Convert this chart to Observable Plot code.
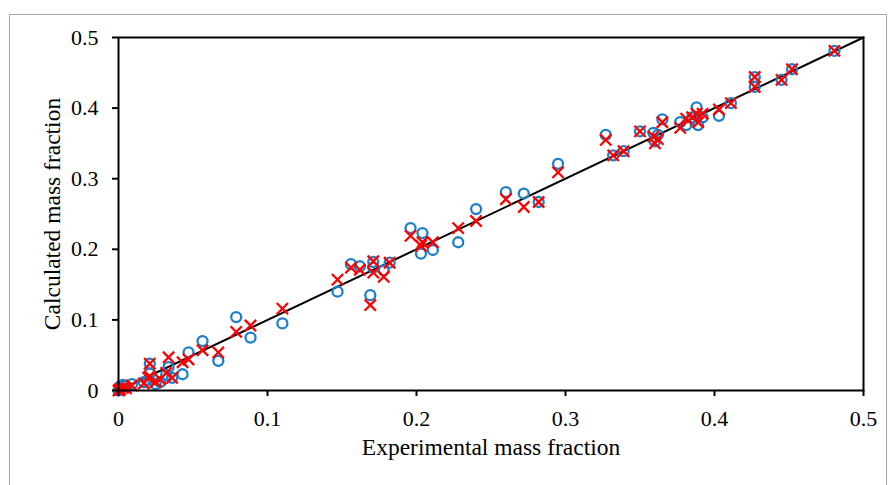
<!DOCTYPE html>
<html><head><meta charset="utf-8">
<script src="https://cdn.jsdelivr.net/npm/d3@7"></script>
<script src="https://cdn.jsdelivr.net/npm/@observablehq/plot@0.6"></script>
<style>
html,body{margin:0;padding:0;background:#fff;}
#wrap{position:relative;width:889px;height:485px;overflow:hidden;}
#border{position:absolute;left:9px;top:14px;width:878px;height:480px;border:1px solid #a6a6a6;box-sizing:border-box;}
#chart{position:absolute;left:0;top:0;}
</style></head><body><div id="wrap"><div id="border"></div><div id="chart"></div></div>
<script>
// Experimental mass fraction (x) for each data point
const experimental = [0.4805,0.452,0.445,0.427,0.427,0.411,0.403,0.392,0.389,0.388,0.385,0.381,0.377,0.365,0.359,0.360,0.362,0.350,0.339,0.332,0.327,0.295,0.282,0.272,0.260,0.240,0.228,0.196,0.204,0.211,0.203,0.182,0.171,0.171,0.178,0.162,0.156,0.147,0.169,0.110,0.079,0.0886,0.0564,0.067,0.047,0.043,0.0336,0.036,0.021,0.021,0.028,0.032,0.017,0.020,0.009,0.005,0.001,0.0,0.003,0.001,0.025];
// Calculated mass fraction, model 1 (blue circles)
const calcCircle = [0.481,0.455,0.440,0.444,0.430,0.407,0.389,0.387,0.376,0.401,0.387,0.376,0.380,0.384,0.365,0.353,0.362,0.367,0.339,0.333,0.362,0.321,0.267,0.279,0.281,0.257,0.210,0.230,0.223,0.199,0.194,0.181,0.182,0.174,0.170,0.176,0.179,0.140,0.135,0.095,0.104,0.075,0.070,0.042,0.054,0.023,0.033,0.018,0.038,0.024,0.012,0.022,0.012,0.015,0.009,0.006,0.002,0.0,0.008,0.006,0.009];
// Calculated mass fraction, model 2 (red crosses)
const calcCross = [0.481,0.455,0.440,0.444,0.430,0.407,0.398,0.392,0.380,0.392,0.387,0.385,0.372,0.380,0.360,0.350,0.356,0.367,0.339,0.333,0.355,0.309,0.267,0.260,0.271,0.240,0.230,0.219,0.210,0.210,0.205,0.181,0.183,0.167,0.161,0.171,0.174,0.157,0.121,0.116,0.083,0.092,0.057,0.054,0.044,0.040,0.047,0.018,0.038,0.020,0.016,0.025,0.010,0.018,0.007,0.003,0.001,0.0,0.004,0.002,0.012];
const tickValues = [0,0.1,0.2,0.3,0.4,0.5];
const tickLabels = ["0","0.1","0.2","0.3","0.4","0.5"];
const parityLine = [0,0.5];
const xLabel = "Experimental mass fraction";
const yLabel = "Calculated mass fraction";

const serif = "'Liberation Serif', 'Times New Roman', serif";
const circles = experimental.map((x,i)=>({x, y: calcCircle[i]}));
const crosses = experimental.map((x,i)=>({x, y: calcCross[i]}));
const diag = parityLine.map(v=>({x:v, y:v}));
const fmt = d => tickLabels[tickValues.indexOf(d)];

const chart = Plot.plot({
  width: 889, height: 485,
  marginLeft: 118, marginRight: 26, marginTop: 37, marginBottom: 95,
  style: {fontFamily: serif, fontSize: "22px", color: "#000", background: "transparent", overflow: "visible"},
  x: {domain: [0, 0.5]},
  y: {domain: [0, 0.5]},
  marks: [
    Plot.line(diag, {x: "x", y: "y", stroke: "#000", strokeWidth: 2}),
    Plot.dot(circles, {x: "x", y: "y", r: 5, symbol: "circle", fill: "none", stroke: "#1f7fc8", strokeWidth: 2.3}),
    Plot.dot(crosses, {x: "x", y: "y", r: 5.2, symbol: "times", stroke: "#ff0000", strokeWidth: 2.3}),
    Plot.frame({stroke: "#000", strokeWidth: 2}),
    Plot.axisX({ticks: tickValues, tickFormat: fmt, tickSize: 6, tickPadding: 14, strokeWidth: 2, fontSize: 22, fontFamily: serif, fontVariant: "normal", label: null}),
    Plot.axisY({ticks: tickValues, tickFormat: fmt, tickSize: 6, tickPadding: 14, strokeWidth: 2, fontSize: 22, fontFamily: serif, fontVariant: "normal", label: null}),
    Plot.text([xLabel], {frameAnchor: "bottom", dy: 64, fontSize: 23.5, fontFamily: serif, text: d => d}),
    Plot.text([yLabel], {frameAnchor: "left", dx: -66, rotate: -90, textAnchor: "middle", fontSize: 23.5, fontFamily: serif, text: d => d})
  ]
});
document.getElementById("chart").appendChild(chart);
</script>
</body></html>
